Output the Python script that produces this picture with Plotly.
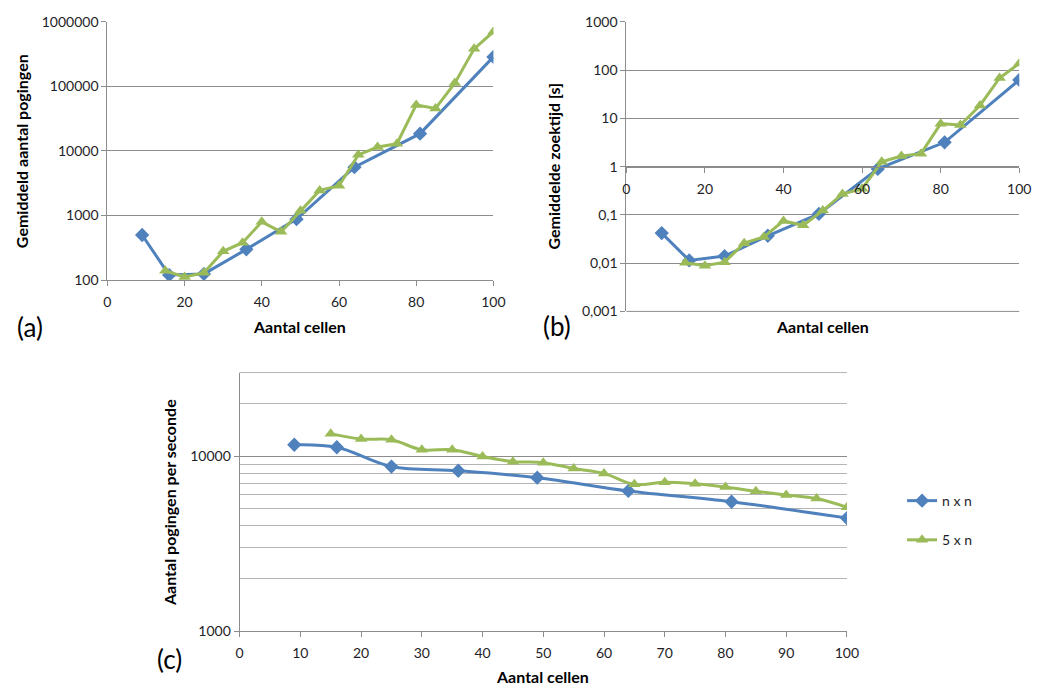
import plotly.graph_objects as go

# ---- data ---------------------------------------------------------------
cells_nxn = [9, 16, 25, 36, 49, 64, 81, 100]
cells_5xn = [15, 20, 25, 30, 35, 40, 45, 50, 55, 60, 65, 70, 75, 80, 85, 90, 95, 100]

# (a) average number of attempts
tries_nxn = [500, 120, 125, 300, 880, 5600, 18500, 285000]
tries_5xn = [140, 112, 130, 280, 380, 800, 560, 1190, 2450, 2900, 8700, 11500,
             12900, 51500, 45500, 112000, 380000, 700000]

# (b) average search time [s]
time_nxn = [0.042, 0.0114, 0.014, 0.037, 0.105, 0.9, 3.2, 63]
time_5xn = [0.0102, 0.0088, 0.0105, 0.026, 0.035, 0.075, 0.061, 0.123, 0.27,
            0.35, 1.26, 1.67, 1.86, 7.8, 7.3, 18.6, 69, 138]

# (c) attempts per second
rate_nxn = [11600, 11230, 8710, 8240, 7520, 6320, 5480, 4420]
rate_5xn = [13430, 12500, 12400, 10850, 10880, 9950, 9290, 9170, 8490, 7960,
            6890, 7090, 6940, 6650, 6290, 6000, 5720, 5100]

SERIES = ["n x n", "5 x n"]

a_ticks = [100, 1000, 10000, 100000, 1000000]
a_ticktext = ["100", "1000", "10000", "100000", "1000000"]
b_ticks = [0.001, 0.01, 0.1, 1, 10, 100, 1000]
b_ticktext = ["0,001", "0,01", "0,1", "1", "10", "100", "1000"]
c_ticks = [1000, 10000]
c_ticktext = ["1000", "10000"]
c_minor = [2000, 3000, 4000, 5000, 6000, 7000, 8000, 9000, 20000, 30000]

# ---- style --------------------------------------------------------------
W, H = 1048, 693
BLUE = "#4F81BD"
GREEN = "#9BBB59"
GRID = "#8c8c8c"
MINOR = "#b4b4b4"
FONT = "Lato"
TXT = "#1e1e28"


def px(x):
    return x / W


def py(y):
    return 1 - y / H


fig = go.Figure()


def add_pair(xa, ya, y1, y2, shape="linear", legend=False):
    fig.add_trace(go.Scatter(
        x=cells_nxn, y=y1, xaxis=xa, yaxis=ya, name=SERIES[0],
        mode="lines+markers", line=dict(color=BLUE, width=3, shape=shape),
        marker=dict(symbol="diamond", size=11, color=BLUE),
        showlegend=legend, legendgroup="g1"))
    fig.add_trace(go.Scatter(
        x=cells_5xn, y=y2, xaxis=xa, yaxis=ya, name=SERIES[1],
        mode="lines+markers", line=dict(color=GREEN, width=3, shape=shape),
        marker=dict(symbol="triangle-up", size=11, color=GREEN),
        showlegend=legend, legendgroup="g2"))


add_pair("x", "y", tries_nxn, tries_5xn)
add_pair("x2", "y2", time_nxn, time_5xn)
add_pair("x3", "y3", rate_nxn, rate_5xn, shape="spline", legend=True)

tickfont = dict(family=FONT, size=14, color=TXT)
common_x = dict(showgrid=False, showline=True, linecolor=GRID, linewidth=1,
                ticks="outside", ticklen=5, tickcolor=GRID, tickfont=tickfont,
                zeroline=False, ticklabelstandoff=4)
common_y = dict(type="log", showgrid=True, gridcolor=GRID, gridwidth=1,
                showline=True, linecolor=GRID, linewidth=1, ticks="outside",
                ticklen=5, tickcolor=GRID, tickfont=tickfont, zeroline=False)

fig.update_layout(
    width=W, height=H,
    margin=dict(l=0, r=0, t=0, b=0),
    paper_bgcolor="white", plot_bgcolor="white",
    font=dict(family=FONT, color=TXT),
    # panel (a)
    xaxis=dict(common_x, domain=[px(105), px(497)], anchor="y",
               range=[0, 100], tick0=0, dtick=20),
    yaxis=dict(common_y, domain=[py(278), py(13)], anchor="x",
               range=[2, 6], tickvals=a_ticks, ticktext=a_ticktext),
    # panel (b): horizontal axis crosses at 1
    xaxis2=dict(common_x, domain=[px(632), px(1031)], anchor="free",
                position=py(161.7), range=[0, 100], tick0=0, dtick=20),
    yaxis2=dict(common_y, domain=[py(310), py(13.3)], anchor="x2",
                range=[-3, 3], tickvals=b_ticks, ticktext=b_ticktext),
    # panel (c)
    xaxis3=dict(common_x, domain=[px(239.3), px(856)], anchor="y3",
                range=[0, 100], tick0=0, dtick=10),
    yaxis3=dict(common_y, domain=[py(637.7), py(372.7)], anchor="x3",
                range=[3, 4.4771], tickvals=c_ticks, ticktext=c_ticktext,
                minor=dict(tickvals=c_minor, showgrid=True, gridcolor=MINOR,
                           gridwidth=1, ticks="")),
    legend=dict(x=px(912), y=py(488), xanchor="left", yanchor="top",
                font=dict(family=FONT, size=14, color=TXT),
                traceorder="grouped", tracegroupgap=18,
                bgcolor="rgba(0,0,0,0)", itemwidth=30),
)

# gridlines lying on the plot-area edges
fig.add_shape(type="line", xref="x2 domain", yref="y2 domain",
              x0=0, x1=1, y0=0, y1=0, line=dict(color=GRID, width=1), layer="below")
fig.add_shape(type="line", xref="x3 domain", yref="y3 domain",
              x0=0, x1=1, y0=1, y1=1, line=dict(color=MINOR, width=1), layer="below")

title_font = dict(family=FONT, size=16, color="#000000")
label_font = dict(family=FONT, size=26, color="#000000")


def note(x, y, text, font, angle=0):
    fig.add_annotation(x=px(x), y=py(y), xref="paper", yref="paper",
                       text=text, showarrow=False, font=font, textangle=angle,
                       xanchor="center", yanchor="middle")


note(18, 146, "<b>Gemiddeld aantal pogingen</b>", title_font, -90)
note(300, 325, "<b>Aantal cellen</b>", title_font)
note(558, 161, "<b>Gemiddelde zoektijd [s]</b>", title_font, -90)
note(831, 325, "<b>Aantal cellen</b>", title_font)
note(168, 506, "<b>Aantal pogingen per seconde</b>", title_font, -90)
note(547, 684, "<b>Aantal cellen</b>", title_font)

note(26, 326, "(a)", label_font)
note(562, 325, "(b)", label_font)
note(168, 666, "(c)", label_font)

fig.write_html("out.html")
